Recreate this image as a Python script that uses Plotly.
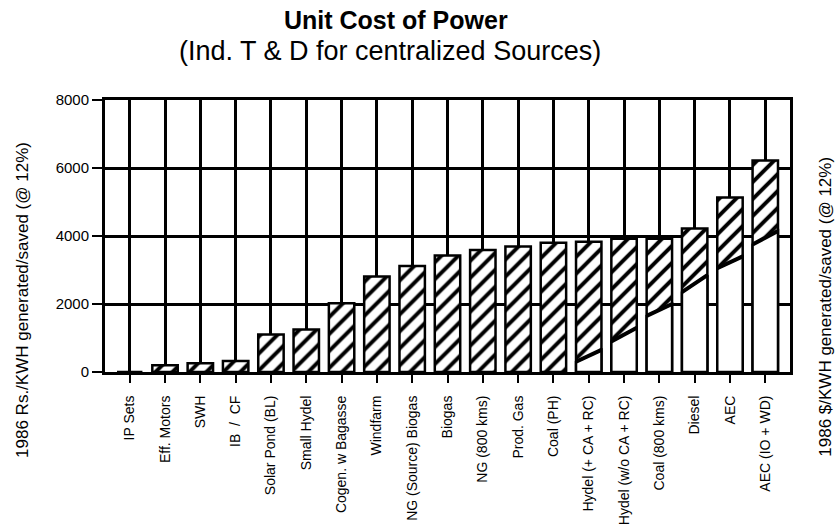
import plotly.graph_objects as go

categories = ["IP Sets", "Eff. Motors", "SWH", "IB  /  CF", "Solar Pond (BL)", "Small Hydel",
              "Cogen. w Bagasse", "Windfarm", "NG (Source) Biogas", "Biogas", "NG (800 kms)",
              "Prod. Gas", "Coal (PH)", "Hydel (+ CA + RC)", "Hydel (w/o CA + RC)",
              "Coal (800 kms)", "Diesel", "AEC", "AEC (IO + WD)"]
unit_cost = [0, 200, 260, 320, 1100, 1250, 2020, 2810, 3120, 3430, 3590, 3690, 3800, 3830,
             3920, 3920, 4220, 5130, 6220]
# lower (unhatched) share of the bar, at the left and right edge of each bar
lower_left = [None] * 13 + [300, 900, 1650, 2350, 3050, 3750]
lower_right = [None] * 13 + [650, 1300, 2000, 2850, 3400, 4150]
y_ticks = [0, 2000, 4000, 6000, 8000]

BAR_W = 0.72
FONT = "Liberation Sans, Arial, Helvetica, sans-serif"
idx = list(range(len(categories)))

fig = go.Figure()
fig.add_trace(go.Bar(
    x=idx, y=unit_cost, width=BAR_W,
    marker=dict(color="white",
                line=dict(color="black", width=2.5),
                pattern=dict(shape="/", fgcolor="black", bgcolor="white", fgopacity=1,
                             size=12, solidity=0.33)),
    showlegend=False, hoverinfo="skip"))

for i, (l, r) in enumerate(zip(lower_left, lower_right)):
    if l is None:
        continue
    fig.add_trace(go.Scatter(
        x=[i - BAR_W / 2, i - BAR_W / 2, i + BAR_W / 2, i + BAR_W / 2, i - BAR_W / 2],
        y=[0, l, r, 0, 0], mode="lines", fill="toself", fillcolor="white",
        line=dict(color="black", width=2.5), showlegend=False, hoverinfo="skip"))
    fig.add_trace(go.Scatter(
        x=[i - BAR_W / 2, i + BAR_W / 2], y=[l, r], mode="lines",
        line=dict(color="black", width=4), showlegend=False, hoverinfo="skip"))

fig.update_layout(
    width=838, height=525,
    margin=dict(l=105, r=48, t=100, b=153),
    paper_bgcolor="white", plot_bgcolor="white",
    font=dict(family=FONT, color="black"),
    xaxis=dict(range=[-0.7, 18.7], tickmode="array", tickvals=idx, ticktext=categories,
               tickangle=-90, tickfont=dict(size=14), ticks="outside", ticklen=8,
               tickwidth=2, tickcolor="black", ticklabelstandoff=7, automargin=False,
               showgrid=True, gridcolor="black", gridwidth=2.5, showline=True,
               linecolor="black", linewidth=3, mirror=True, zeroline=False),
    yaxis=dict(range=[0, 8000], tickmode="array", tickvals=y_ticks,
               ticktext=[str(v) for v in y_ticks], tickfont=dict(size=15),
               ticks="outside", ticklen=10, tickwidth=2, tickcolor="black",
               automargin=False, showgrid=True, gridcolor="black", gridwidth=2.5,
               showline=True, linecolor="black", linewidth=3, mirror=True,
               zeroline=False),
    annotations=[
        dict(text="<b>Unit Cost of Power</b>", xref="paper", yref="paper",
             x=0.425, y=1.0, yshift=100 - 20, showarrow=False,
             font=dict(size=25), xanchor="center", yanchor="middle"),
        dict(text="(Ind. T & D for centralized Sources)", xref="paper", yref="paper",
             x=0.416, y=1.0, yshift=100 - 51, showarrow=False,
             font=dict(size=27), xanchor="center", yanchor="middle"),
        dict(text="1986 Rs./KWH generated/saved (@ 12%)", xref="paper", yref="paper",
             x=0, xshift=-82, y=0.265, textangle=-90, showarrow=False,
             font=dict(size=17), xanchor="center", yanchor="middle"),
        dict(text="1986 $/KWH generated/saved (@ 12%)", xref="paper", yref="paper",
             x=1, xshift=36, y=0.24, textangle=-90, showarrow=False,
             font=dict(size=17), xanchor="center", yanchor="middle"),
    ],
)

fig.write_html("out.html", config={"displayModeBar": False},
               post_script="document.body.style.margin='0';document.body.style.overflow='hidden';")
